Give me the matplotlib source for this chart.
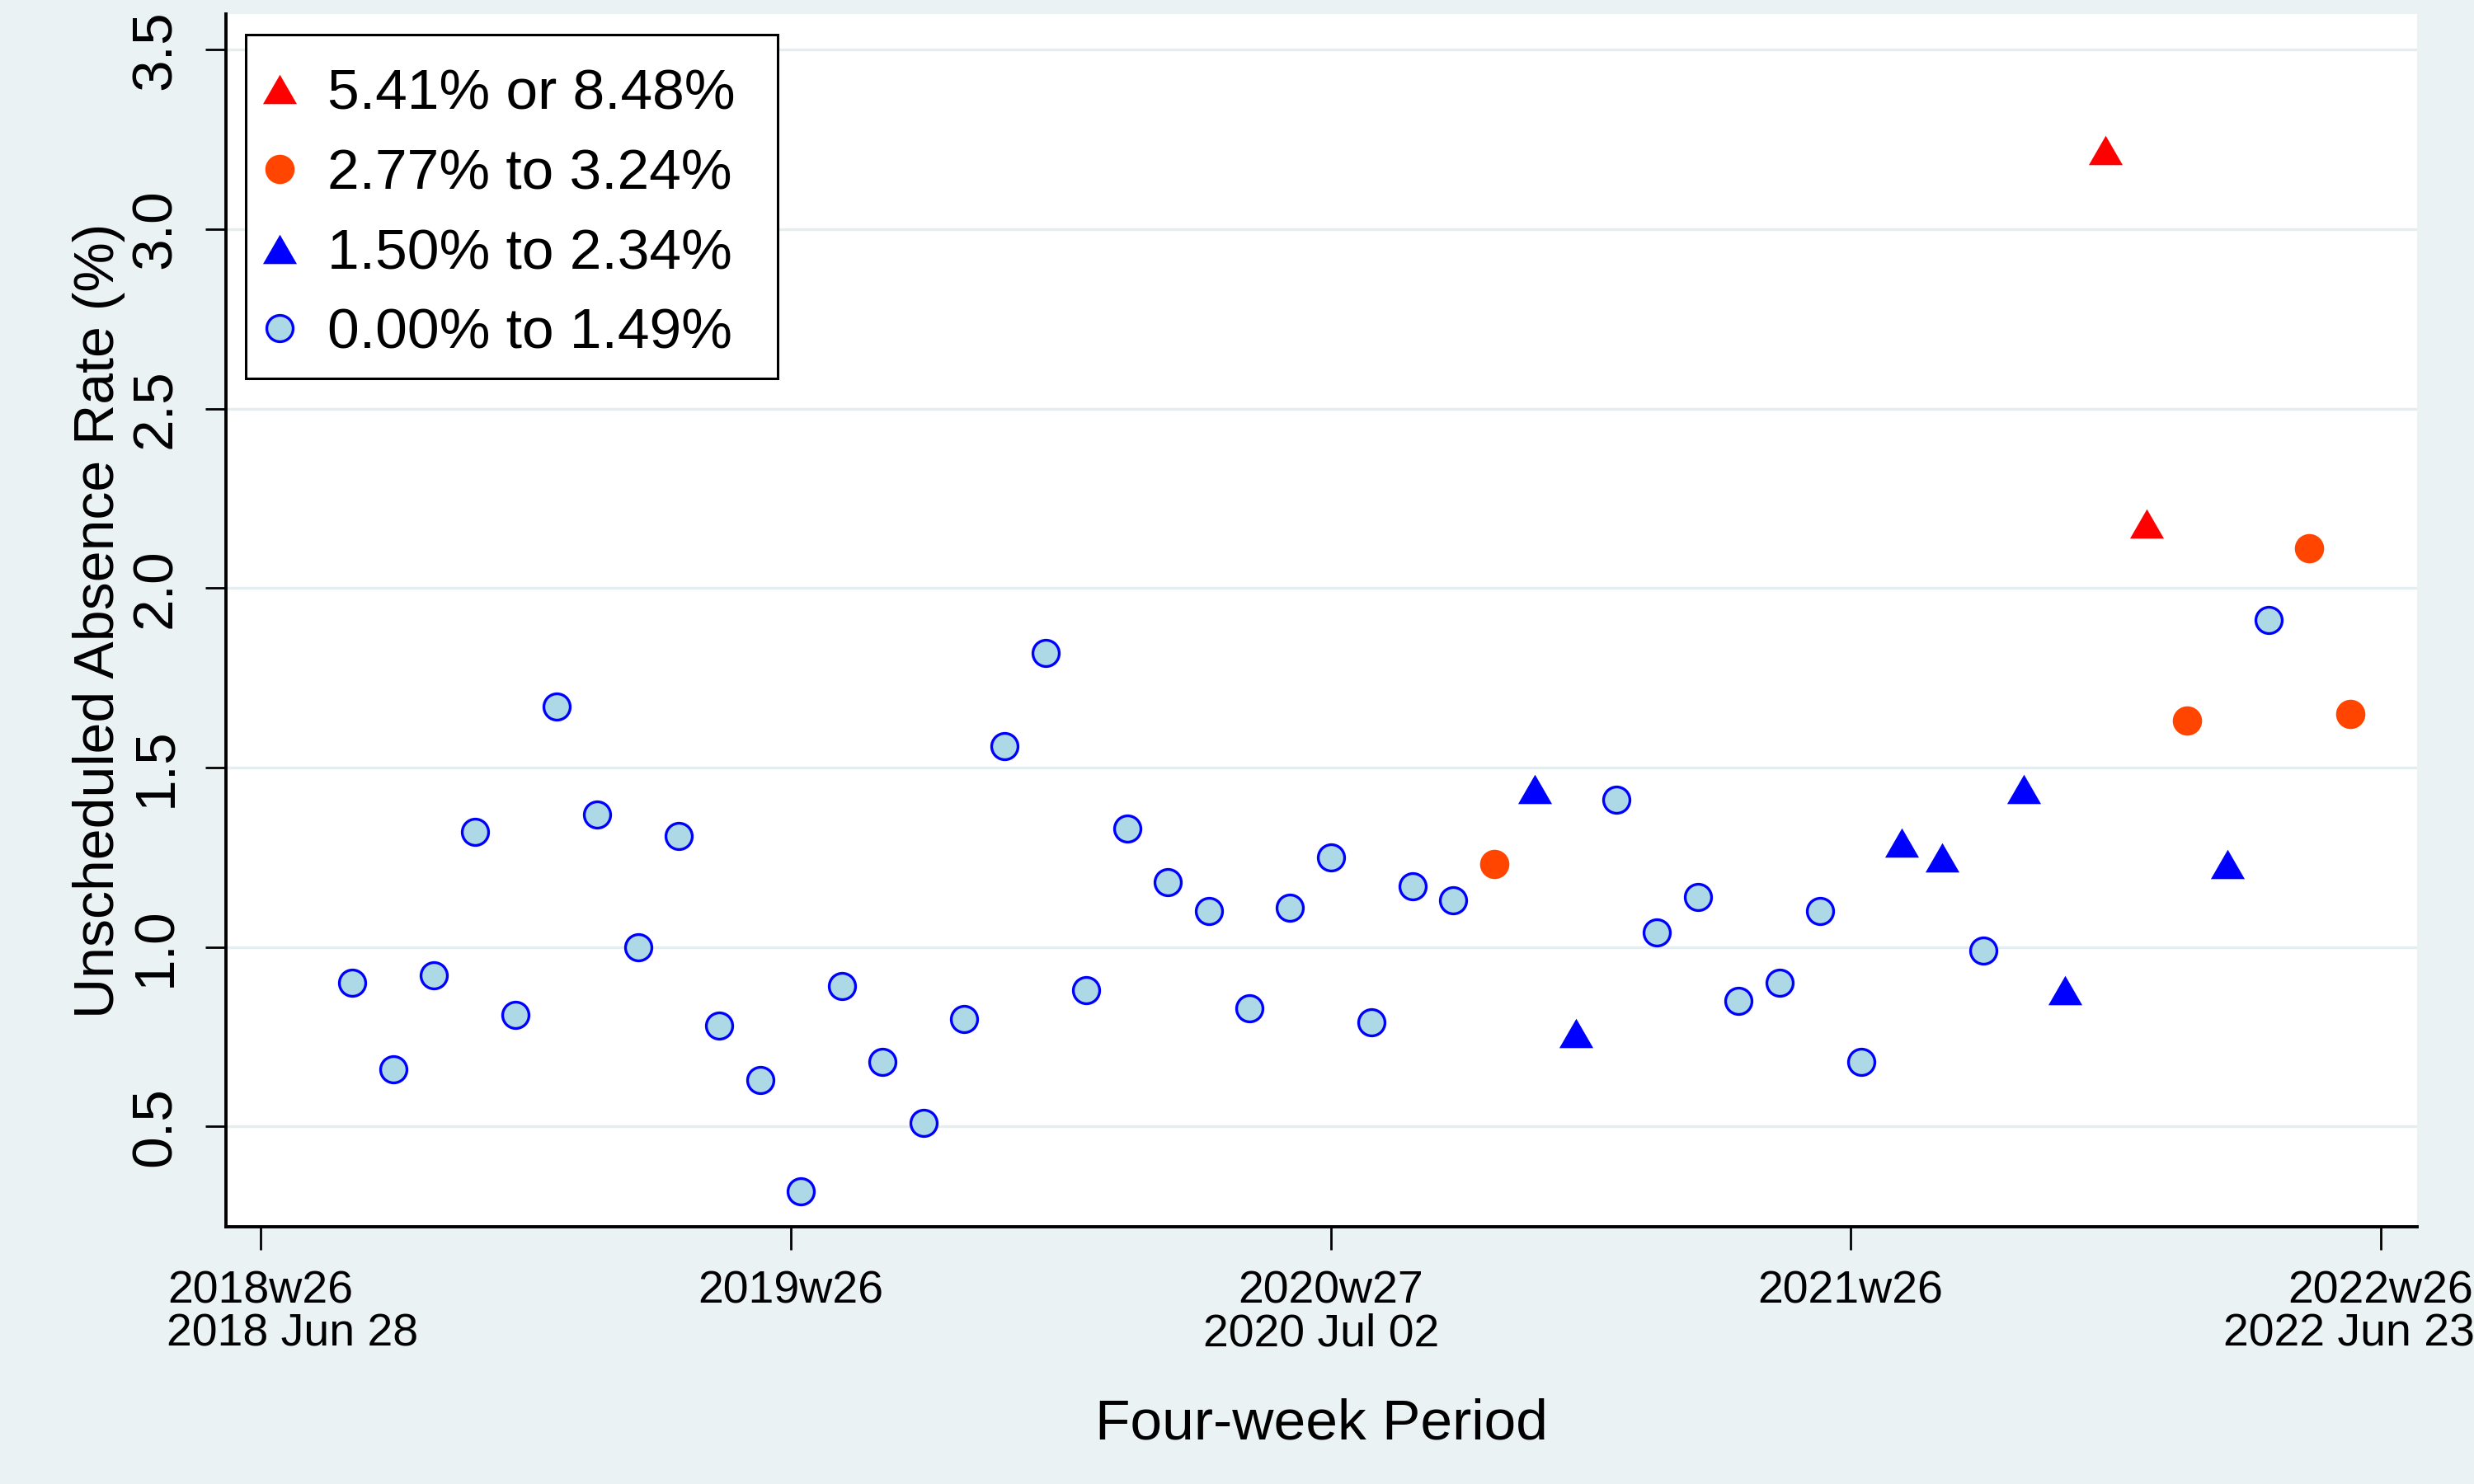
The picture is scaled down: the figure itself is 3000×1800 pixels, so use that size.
import numpy as np
import pandas as pd
import matplotlib
matplotlib.use("Agg")
import matplotlib.pyplot as plt
import matplotlib.dates as mdates
from matplotlib.patches import Rectangle

plt.rcParams['font.family'] = ['Liberation Sans', 'DejaVu Sans']

# Four-week periods, first one starts 2018 Aug 30
period_start = "2018-08-30"

# Unscheduled absence rate (%) per four-week period
absence_rate = [0.90, 0.66, 0.92, 1.32, 0.81, 1.67, 1.37, 1.00, 1.31, 0.78,
                0.63, 0.32, 0.89, 0.68, 0.51, 0.80, 1.56, 1.82, 0.88, 1.33,
                1.18, 1.10, 0.83, 1.11, 1.25, 0.79, 1.17, 1.13, 1.23, 1.44,
                0.76, 1.41, 1.04, 1.14, 0.85, 0.90, 1.10, 0.68, 1.29, 1.25,
                0.99, 1.44, 0.88, 3.22, 2.18, 1.63, 1.23, 1.91, 2.11, 1.65]

# group of each period (0 = lowest ... 3 = highest)
rate_group = [0, 0, 0, 0, 0, 0, 0, 0, 0, 0,
              0, 0, 0, 0, 0, 0, 0, 0, 0, 0,
              0, 0, 0, 0, 0, 0, 0, 0, 2, 1,
              1, 0, 0, 0, 0, 0, 0, 0, 1, 1,
              0, 1, 1, 3, 3, 2, 1, 0, 2, 2]

group_labels = ["0.00% to 1.49%", "1.50% to 2.34%", "2.77% to 3.24%", "5.41% or 8.48%"]

tick_dates = ["2018-06-28", "2019-06-27", "2020-07-02", "2021-06-24", "2022-06-23"]
week_labels = ["2018w26", "2019w26", "2020w27", "2021w26", "2022w26"]
date_labels = ["2018 Jun 28", "", "2020 Jul 02", "", "2022 Jun 23"]

y_ticks = [0.5, 1.0, 1.5, 2.0, 2.5, 3.0, 3.5]

dates = pd.date_range(period_start, periods=len(absence_rate), freq="28D")
rate = np.array(absence_rate)
group = np.array(rate_group)
ticks = pd.to_datetime(tick_dates)

bg = "#EAF2F3"
tri = [(-1, -0.866), (1, -0.866), (0, 0.866)]

styles = {
    0: dict(marker="o", markersize=11.5, markerfacecolor="#ADD8E6",
            markeredgecolor="#0000FF", markeredgewidth=1.2),
    1: dict(marker=tri, markersize=14.8, markerfacecolor="#0000FF",
            markeredgewidth=0),
    2: dict(marker="o", markersize=12.8, markerfacecolor="#FF4500",
            markeredgewidth=0),
    3: dict(marker=tri, markersize=14.8, markerfacecolor="#FF0000",
            markeredgewidth=0),
}

fig = plt.figure(figsize=(15, 9), dpi=200, facecolor=bg)
ax = fig.add_axes([0.0913, 0.1733, 0.8857, 0.8173])
ax.set_facecolor("white")

handles = {}
for g in [3, 2, 1, 0]:
    sel = group == g
    h, = ax.plot(dates[sel], rate[sel], linestyle="none", label=group_labels[g],
                 zorder=3, **styles[g])
    handles[g] = h

# axes look
for side in ["top", "right"]:
    ax.spines[side].set_visible(False)
for side in ["left", "bottom"]:
    ax.spines[side].set_linewidth(1.4)
    ax.spines[side].set_color("black")

ax.set_ylim(0.22, 3.6)
ax.set_yticks(y_ticks)
ax.set_yticklabels([f"{v:.1f}" for v in y_ticks])
ax.yaxis.grid(True, color="#E4EEF0", linewidth=1.2, zorder=0)
ax.set_axisbelow(True)

ax.set_xlim(ticks[0] - pd.Timedelta(days=24), ticks[-1] + pd.Timedelta(days=25))
ax.set_xticks(ticks)
ax.set_xticklabels(week_labels)

ax.tick_params(axis="y", length=9, width=1.0, labelsize=25, pad=10)
ax.tick_params(axis="x", length=10, width=1.0, labelsize=20, pad=9)
for lab in ax.get_yticklabels():
    lab.set_rotation(90)
    lab.set_va("center")

# second line of the x labels (calendar dates), slightly offset like the original
date_shift = [13.8, 0, -4.1, 0, -13.8]
for d, txt, dx in zip(ticks, date_labels, date_shift):
    if txt:
        ax.annotate(txt, xy=(mdates.date2num(d), 0), xycoords=ax.get_xaxis_transform(),
                    xytext=(dx, -46.8), textcoords="offset points",
                    ha="center", va="center", fontsize=20, annotation_clip=False)

ax.set_ylabel("Unscheduled Absence Rate (%)", fontsize=24.5, va="center")
ax.yaxis.set_label_coords(-0.058, 0.5)
ax.set_xlabel("Four-week Period", fontsize=25, va="center")
ax.xaxis.set_label_coords(0.5, -0.163)

# legend box drawn separately so its padding matches the original
box = Rectangle((0.009, 0.6995), 0.2428, 0.2835, transform=ax.transAxes,
                facecolor="white", edgecolor="black", linewidth=1.1, zorder=4)
ax.add_patch(box)

leg = ax.legend(handles=[handles[3], handles[2], handles[1], handles[0]],
                loc="upper left", bbox_to_anchor=(0.009, 0.9765), borderaxespad=0,
                fontsize=25, frameon=False, handlelength=0.3, handletextpad=0.68,
                labelspacing=0.47, borderpad=0.45)
leg.set_zorder(5)

fig.savefig("out.png", dpi=200, facecolor=bg)
